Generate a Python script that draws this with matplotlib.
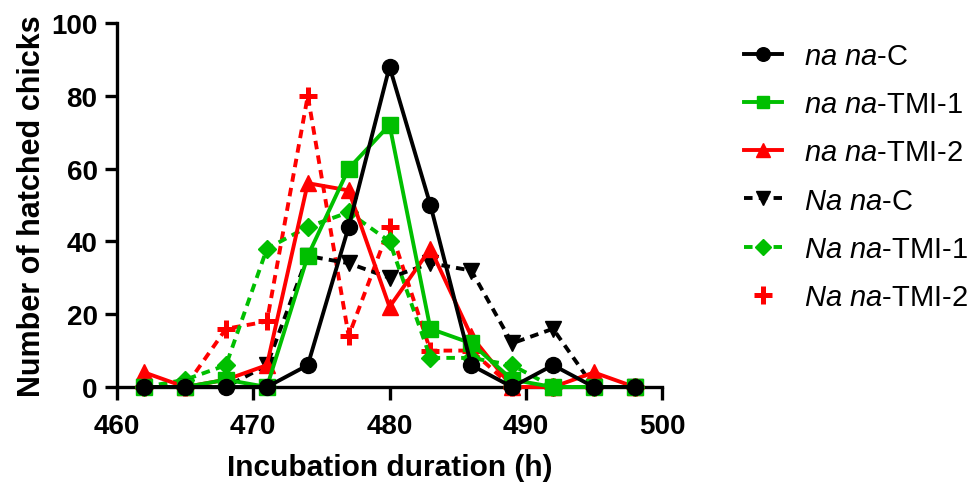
import matplotlib
matplotlib.use("Agg")
import matplotlib.pyplot as plt
from matplotlib.lines import Line2D

plt.rcParams['font.family'] = ['Liberation Sans', 'DejaVu Sans']
plt.rcParams['mathtext.fontset'] = 'custom'
plt.rcParams['mathtext.it'] = 'Liberation Sans:italic'
plt.rcParams['mathtext.rm'] = 'Liberation Sans'

# incubation time (h)
hours = [462, 465, 468, 471, 474, 477, 480, 483, 486, 489, 492, 495, 498]

nana_c = [0, 0, 0, 0, 6, 44, 88, 50, 6, 0, 6, 0, 0]
nana_tmi1 = [0, 0, 2, 0, 36, 60, 72, 16, 12, 2, 0, 0, 0]
nana_tmi2 = [4, 0, 2, 6, 56, 54, 22, 38, 14, 0, 0, 4, 0]
Nana_c = [0, 0, 0, 6, 36, 34, 30, 34, 32, 12, 16, 0, 0]
Nana_tmi1 = [0, 2, 6, 38, 44, 48, 40, 8, 8, 6, 0, 0, 0]
Nana_tmi2 = [0, 0, 16, 18, 80, 14, 44, 10, 10, 0, 0, 0, 0]

labels = [r"$\it{na\ na}$-C", r"$\it{na\ na}$-TMI-1", r"$\it{na\ na}$-TMI-2",
          r"$\it{Na\ na}$-C", r"$\it{Na\ na}$-TMI-1", r"$\it{Na\ na}$-TMI-2"]

GREEN = '#00bf00'
RED = '#ff0000'
LW = 2.8
DASH = (2.2, 1.6)

series = [
    (nana_c, 'black', 'o', '-', 11.5),
    (nana_tmi1, GREEN, 's', '-', 11),
    (nana_tmi2, RED, '^', '-', 12),
    (Nana_c, 'black', 'v', '--', 12),
    (Nana_tmi1, GREEN, 'D', '--', 9),
    (Nana_tmi2, RED, '+', '--', 13),
]

fig = plt.figure(figsize=(9.77, 4.85), dpi=100)
ax = fig.add_axes([0.1198, 0.2, 0.5578, 0.7505])

# draw in reverse so that na na-C sits on top
for i in reversed(range(len(series))):
    vals, col, mk, ls, ms = series[i]
    kw = dict(color=col, marker=mk, markersize=ms, linewidth=LW,
              linestyle=ls, clip_on=False, zorder=3 + (6 - i))
    if mk == '+':
        kw['markeredgewidth'] = 3.6
    if ls == '--':
        kw['dashes'] = DASH
    ax.plot(hours, vals, **kw)

handles = []
for i, (vals, col, mk, ls, ms) in enumerate(series):
    if i == 5:
        h = Line2D([], [], color=col, marker=mk, markersize=ms, markeredgewidth=3.6,
                   linestyle='none')
    else:
        h = Line2D([], [], color=col, marker=mk, markersize=ms * 0.85, linewidth=LW,
                   linestyle=ls)
        if ls == '--':
            h.set_dashes(DASH)
    handles.append(h)

ax.set_xlim(460, 500)
ax.set_ylim(0, 100)
ax.set_xticks([460, 470, 480, 490, 500])
ax.set_yticks([0, 20, 40, 60, 80, 100])
ax.spines['top'].set_visible(False)
ax.spines['right'].set_visible(False)
for s in ['left', 'bottom']:
    ax.spines[s].set_linewidth(2.4)
ax.tick_params(axis='both', length=9, width=2.4, labelsize=20)
ax.tick_params(axis='x', pad=10)
ax.tick_params(axis='y', pad=5)
for lab in ax.get_xticklabels() + ax.get_yticklabels():
    lab.set_fontweight('bold')

ax.set_xlabel("Incubation duration (h)", fontsize=21.5, fontweight='bold', labelpad=10)
ax.set_ylabel("Number of hatched chicks", fontsize=22, fontweight='bold', labelpad=3)

fig.legend(handles, labels, loc='upper left', bbox_to_anchor=(0.735, 0.965),
           frameon=False, fontsize=21, handlelength=1.3, handletextpad=0.75,
           labelspacing=0.69)

fig.savefig("out.png", dpi=100)
